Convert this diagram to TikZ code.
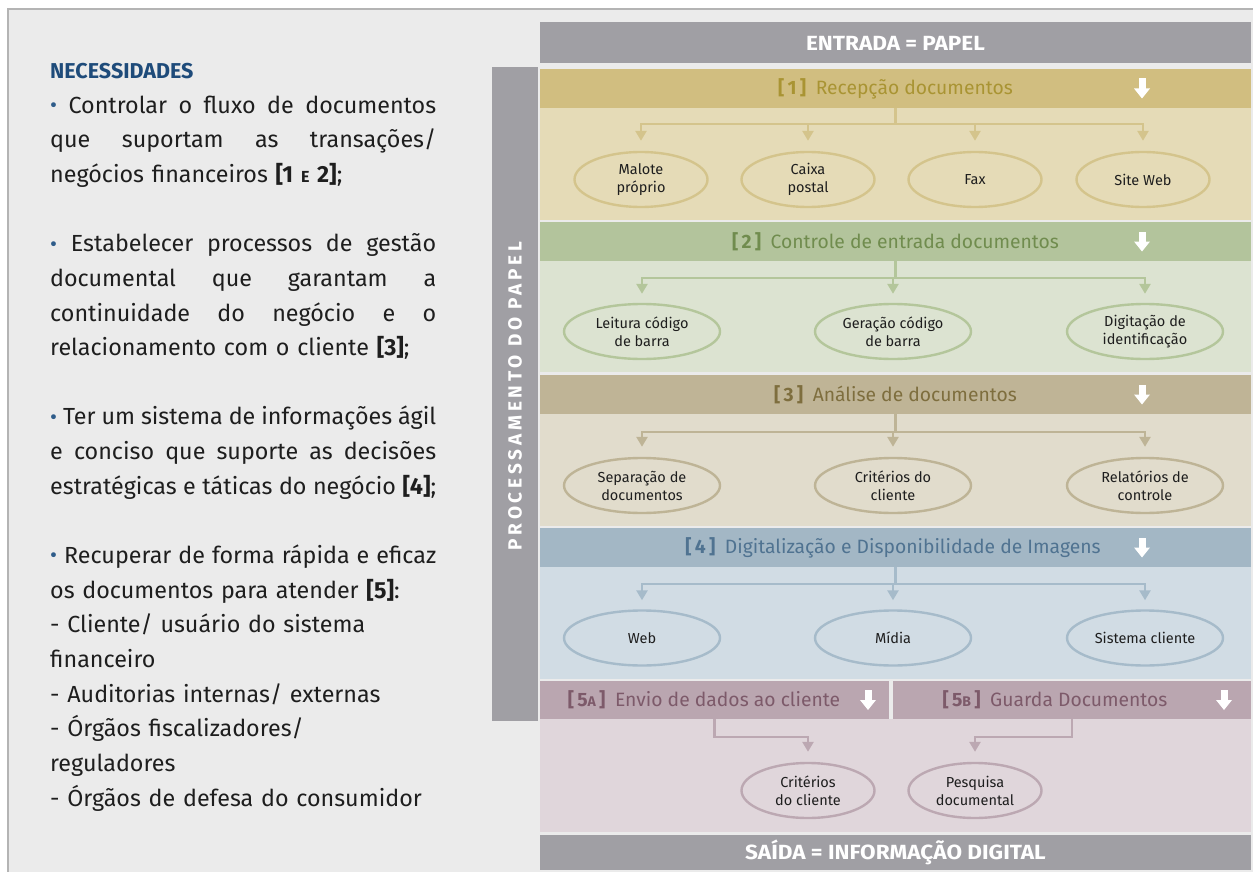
\documentclass[tikz,border=0pt]{standalone}
\usepackage{fontspec}
\usepackage{graphicx}
\setmainfont{Fira Sans}
\usetikzlibrary{shapes.geometric,arrows.meta,calc}

\definecolor{bg}{HTML}{EBEBEB}
\definecolor{bordergrey}{HTML}{B4B4B4}
\definecolor{barg}{HTML}{A09FA4}
\definecolor{necblue}{HTML}{1E4B7A}
\definecolor{bulblue}{HTML}{2E5C8A}
\definecolor{txt}{HTML}{1E1E1E}
\definecolor{head1}{HTML}{D1BE80}\definecolor{tit1}{HTML}{A99433}\definecolor{body1}{HTML}{E5DBB7}\definecolor{line1}{HTML}{D4C48C}
\definecolor{head2}{HTML}{B3C49C}\definecolor{tit2}{HTML}{708C4E}\definecolor{body2}{HTML}{DCE3D1}\definecolor{line2}{HTML}{B4C69B}
\definecolor{head3}{HTML}{BFB496}\definecolor{tit3}{HTML}{7E6E3E}\definecolor{body3}{HTML}{E1DCCC}\definecolor{line3}{HTML}{BEB496}
\definecolor{head4}{HTML}{A3B7C5}\definecolor{tit4}{HTML}{507391}\definecolor{body4}{HTML}{D1DCE4}\definecolor{line4}{HTML}{A6BBCA}
\definecolor{head5}{HTML}{BAA6B0}\definecolor{tit5}{HTML}{7D5A6A}\definecolor{body5}{HTML}{E0D6DB}\definecolor{line5}{HTML}{BCA8B2}

\newcommand\jline[1]{\leavevmode\hbox to 386pt{\spaceskip=0.25em plus 1fil\relax #1}}
\newcommand\bul{{\color{bulblue}\raisebox{0.03em}{\scalebox{0.92}{•}}}\ }
\newcommand\tb[1]{\textbf{[\,#1\,]}}

\tikzset{
  hdr/.style={anchor=north west, inner sep=0, outer sep=0, minimum height=39pt},
  title/.style={font=\fontsize{19.3}{20}\selectfont},
  bartext/.style={text=white, font=\bfseries\fontsize{20.5}{21}\selectfont\addfontfeature{FakeStretch=1.1}},
  ell/.style={ellipse, draw, line width=2.4pt, inner sep=0, minimum height=55pt, align=center,
              text=txt, font=\fontsize{14.5}{18}\selectfont},
  conn/.style={line width=2.6pt},
  arr/.style={-{Triangle[width=11pt,length=10pt]}},
  wdown/.pic={\fill[white] (-3.5,-10) rectangle (3.5,1); \fill[white] (-8,0) -- (8,0) -- (0,10) -- cycle;}
}

\begin{document}
\begin{tikzpicture}[x=1pt,y=-1pt]
\useasboundingbox (0,0) rectangle (1253,872);
\fill[white] (0,0) rectangle (1253,872);
\fill[bg] (8,9) rectangle (1253,872);
\draw[bordergrey, line width=1.5pt] (8,872) -- (8,9) -- (1253,9);

% left text
\node[anchor=north west, inner sep=0, align=left, text width=430pt, text=txt,
      font=\fontsize{23.3}{34.65}\selectfont] (needs) at (50,63) {%
{\color{necblue}\bfseries\fontsize{21.5}{34.65}\selectfont NECESSIDADES}\\
\jline{\bul Controlar o fluxo de documentos}\\
\jline{que suportam as transações/}\\
negócios financeiros \textbf{[1 {\fontsize{16}{17}\selectfont E} 2]};\\[34.65pt]
\jline{\bul Estabelecer processos de gestão}\\
\jline{documental que garantam a}\\
\jline{continuidade do negócio e o}\\
relacionamento com o cliente \textbf{[3]};\\[34.65pt]
\jline{\bul Ter um sistema de informações ágil}\\
\jline{e conciso que suporte as decisões}\\
\jline{estratégicas e táticas do negócio \textbf{[4]};}\\[34.65pt]
\jline{\bul Recuperar de forma rápida e eficaz}\\
os documentos para atender \textbf{[5]}:\\
- Cliente/ usuário do sistema\\
financeiro\\
- Auditorias internas/ externas\\
- Órgãos fiscalizadores/\\
reguladores\\
- Órgãos de defesa do consumidor};

% entrada / saida bars
\node[hdr, fill=barg, minimum width=711pt, minimum height=41pt] (entrada) at (540,22) {};
\node[bartext] (entradat) at (895.5,43) {ENTRADA = PAPEL};
\node[hdr, fill=barg, minimum width=711pt, minimum height=35pt] (saida) at (540,835) {};
\node[bartext] (saidat) at (895.5,852.5) {SAÍDA = INFORMAÇÃO DIGITAL};

% vertical bar
\node[hdr, fill=barg, minimum width=46pt, minimum height=654pt] (vbar) at (492,67) {};
\node[rotate=90, text=white, font=\bfseries\fontsize{19}{19}\selectfont\addfontfeature{LetterSpace=20}] (vbart) at (515,396) {PROCESSAMENTO DO PAPEL};

% ---- band 1
\node[hdr, fill=head1, minimum width=711pt] (h1) at (540,69) {};
\fill[body1] (540,108) rectangle (1251,220);
\node[title, text=tit1] (t1) at (895.5,88.5) {\tb{1}\enspace Recepção documentos};
\pic at (1142,88.5) {wdown};
\node[ell, draw=line1, minimum width=133pt] (e11) at (641,179.5) {Malote\\próprio};
\node[ell, draw=line1, minimum width=133pt] (e12) at (808,179.5) {Caixa\\postal};
\node[ell, draw=line1, minimum width=133pt] (e13) at (975,179.5) {Fax};
\node[ell, draw=line1, minimum width=133pt] (e14) at (1143,179.5) {Site Web};
\coordinate (j1) at ($(h1.south)+(0,16)$);
\draw[conn, line1] (h1.south) -- (j1);
\draw[conn, line1, line cap=rect] (j1 -| e11) -- (j1 -| e14);
\foreach \e in {e11,e12,e13,e14} \draw[conn, line1, arr] (j1 -| \e) -- ([yshift=10pt]\e.north);

% ---- band 2
\node[hdr, fill=head2, minimum width=711pt] (h2) at (540,222) {};
\fill[body2] (540,261) rectangle (1251,372);
\node[title, text=tit2] (t2) at (895.5,241.5) {\tb{2}\enspace Controle de entrada documentos};
\pic at (1142,241.5) {wdown};
\node[ell, draw=line2, minimum width=156pt] (e21) at (642,331.5) {Leitura código\\de barra};
\node[ell, draw=line2, minimum width=156pt] (e22) at (893,331.5) {Geração código\\de barra};
\node[ell, draw=line2, minimum width=156pt] (e23) at (1145,331.5) {Digitação de\\identificação};
\coordinate (j2) at ($(h2.south)+(0,17)$);
\draw[conn, line2] (h2.south) -- (j2);
\draw[conn, line2, line cap=rect] (j2 -| e21) -- (j2 -| e23);
\foreach \e in {e21,e22,e23} \draw[conn, line2, arr] (j2 -| \e) -- ([yshift=9pt]\e.north);

% ---- band 3
\node[hdr, fill=head3, minimum width=711pt] (h3) at (540,375) {};
\fill[body3] (540,414) rectangle (1251,526);
\node[title, text=tit3] (t3) at (895.5,394.5) {\tb{3}\enspace Análise de documentos};
\pic at (1142,394.5) {wdown};
\node[ell, draw=line3, minimum width=156pt] (e31) at (642,485.5) {Separação de\\documentos};
\node[ell, draw=line3, minimum width=156pt] (e32) at (893,485.5) {Critérios do\\cliente};
\node[ell, draw=line3, minimum width=156pt] (e33) at (1145,485.5) {Relatórios de\\controle};
\coordinate (j3) at ($(h3.south)+(0,18)$);
\draw[conn, line3] (h3.south) -- (j3);
\draw[conn, line3, line cap=rect] (j3 -| e31) -- (j3 -| e33);
\foreach \e in {e31,e32,e33} \draw[conn, line3, arr] (j3 -| \e) -- ([yshift=10pt]\e.north);

% ---- band 4
\node[hdr, fill=head4, minimum width=711pt] (h4) at (540,528) {};
\fill[body4] (540,567) rectangle (1251,679);
\node[title, text=tit4] (t4) at (893,547.5) {\tb{4}\enspace Digitalização e Disponibilidade de Imagens};
\pic at (1142,547.5) {wdown};
\node[ell, draw=line4, minimum width=156pt] (e41) at (642,638) {Web};
\node[ell, draw=line4, minimum width=156pt] (e42) at (893,638) {Mídia};
\node[ell, draw=line4, minimum width=156pt] (e43) at (1145,638) {Sistema cliente};
\coordinate (j4) at ($(h4.south)+(0,17)$);
\draw[conn, line4] (h4.south) -- (j4);
\draw[conn, line4, line cap=rect] (j4 -| e41) -- (j4 -| e43);
\foreach \e in {e41,e42,e43} \draw[conn, line4, arr] (j4 -| \e) -- ([yshift=9pt]\e.north);

% ---- band 5
\node[hdr, fill=head5, minimum width=349pt, minimum height=38pt] (h5a) at (540,681) {};
\node[hdr, fill=head5, minimum width=358pt, minimum height=38pt] (h5b) at (893,681) {};
\fill[body5] (540,719) rectangle (1251,832);
\node[title, text=tit5] (t5a) at (704,700) {\tb{5{\fontsize{14}{14}\selectfont A}}\enspace Envio de dados ao cliente};
\node[title, text=tit5] (t5b) at (1055,700) {\tb{5{\fontsize{14}{14}\selectfont B}}\enspace Guarda Documentos};
\pic at (868,700) {wdown};
\pic at (1224,700) {wdown};
\node[ell, draw=line5, minimum width=133pt] (e51) at (808,790.5) {Critérios\\do cliente};
\node[ell, draw=line5, minimum width=133pt] (e52) at (975,790.5) {Pesquisa\\documental};
\draw[conn, line5, arr] (h5a.south) -- ++(0,18) -| ([yshift=10pt]e51.north);
\draw[conn, line5, arr] (h5b.south) -- ++(0,18) -| ([yshift=10pt]e52.north);
\end{tikzpicture}
\end{document}
